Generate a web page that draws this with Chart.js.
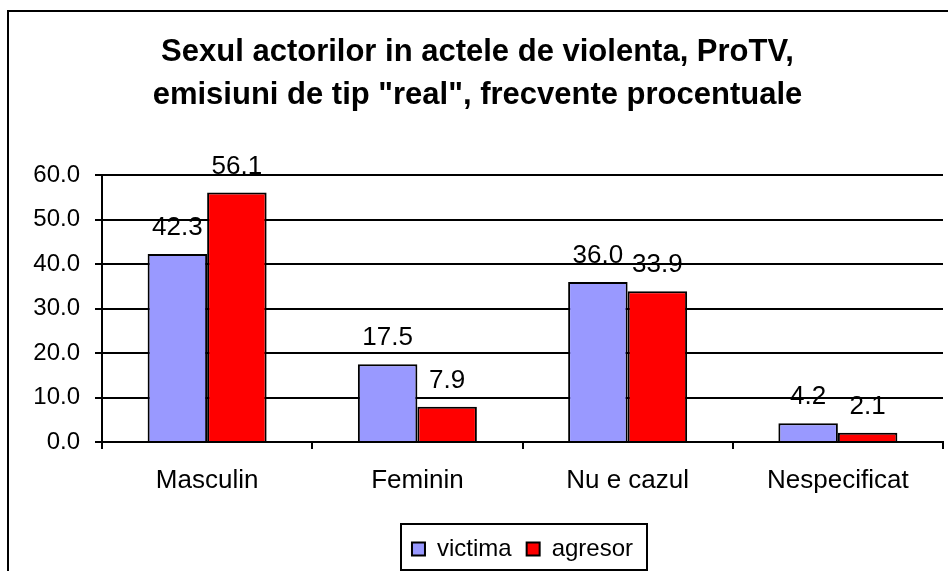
<!DOCTYPE html>
<html>
<head>
<meta charset="utf-8">
<script src="https://cdn.jsdelivr.net/npm/chart.js@4/dist/chart.umd.min.js"></script>
<style>
  html, body { margin: 0; padding: 0; background: #fff; }
  #wrap { width: 948px; height: 571px; }
</style>
</head>
<body>
<div id="wrap"><canvas id="chart" width="948" height="571"></canvas></div>
<script>
const categories = ["Masculin", "Feminin", "Nu e cazul", "Nespecificat"];
const victima = [42.3, 17.5, 36.0, 4.2];
const agresor = [56.1, 7.9, 33.9, 2.1];
const titleLines = ["Sexul actorilor in actele de violenta, ProTV,", "emisiuni de tip \"real\", frecvente procentuale"];

const FONT = "'Liberation Sans', Arial, sans-serif";
Chart.defaults.color = "#000";
Chart.defaults.font.family = FONT;

// outer frame, like the excel chart area border
const frame = {
    id: "frame",
    beforeDraw(chart) {
        const ctx = chart.ctx;
        ctx.save();
        ctx.fillStyle = "#fff";
        ctx.fillRect(0, 0, chart.width, chart.height);
        ctx.strokeStyle = "#000";
        ctx.lineWidth = 2;
        ctx.strokeRect(8, 11, 1000, 1000);
        ctx.restore();
    },
};

// value labels above each bar
const barLabels = {
    id: "barLabels",
    afterDatasetsDraw(chart) {
        const ctx = chart.ctx;
        ctx.save();
        ctx.font = "26px " + FONT;
        ctx.fillStyle = "#000";
        ctx.textAlign = "center";
        ctx.textBaseline = "alphabetic";
        chart.data.datasets.forEach((ds, di) => {
            chart.getDatasetMeta(di).data.forEach((bar, i) => {
                ctx.fillText(ds.data[i].toFixed(1), bar.x, bar.y - 19);
            });
        });
        ctx.restore();
    },
};

// box around the legend
const legendBox = {
    id: "legendBox",
    afterDraw(chart) {
        const lg = chart.legend;
        if (!lg || !lg.legendHitBoxes.length) return;
        const hb = lg.legendHitBoxes;
        const first = hb[0], last = hb[hb.length - 1];
        const ctx = chart.ctx;
        ctx.save();
        ctx.strokeStyle = "#000";
        ctx.lineWidth = 2;
        const left = Math.round(first.left - 11);
        const right = Math.round(last.left + last.width + 14);
        ctx.strokeRect(left, 524, right - left, 46);
        ctx.restore();
    },
};

new Chart(document.getElementById("chart"), {
    type: "bar",
    data: {
        labels: categories,
        datasets: [
            {
                label: "victima",
                data: victima,
                backgroundColor: "#9999FF",
                borderColor: "#000",
                borderWidth: 2,
            },
            {
                label: "agresor",
                data: agresor,
                backgroundColor: "#FF0000",
                borderColor: "#000",
                borderWidth: 2,
            },
        ],
    },
    options: {
        responsive: false,
        animation: false,
        layout: { padding: { left: 12, right: 5, top: 0, bottom: 0 } },
        datasets: {
            bar: { categoryPercentage: 0.566, barPercentage: 1.0 },
        },
        scales: {
            x: {
                afterFit: (s) => { s.height = 80; },
                grid: {
                    offset: true,
                    drawOnChartArea: false,
                    drawTicks: true,
                    tickLength: 7,
                    color: "#000",
                    lineWidth: 2,
                },
                border: { color: "#000", width: 2 },
                ticks: { font: { size: 26 }, padding: 16, color: "#000" },
            },
            y: {
                min: 0,
                max: 60,
                afterFit: (s) => { s.width = 90; },
                grid: {
                    color: "#000",
                    lineWidth: 2,
                    tickLength: 7,
                },
                border: { color: "#000", width: 2 },
                ticks: {
                    stepSize: 10,
                    padding: 15,
                    font: { size: 24 },
                    color: "#000",
                    callback: (v) => Number(v).toFixed(1),
                },
            },
        },
        plugins: {
            title: {
                display: true,
                text: titleLines,
                color: "#000",
                font: { size: 31, weight: "bold", lineHeight: 1.39 },
                padding: { top: 31, bottom: 58 },
            },
            legend: {
                position: "bottom",
                fullSize: false,
                labels: {
                    boxWidth: 13,
                    boxHeight: 13,
                    padding: 15,
                    font: { size: 24 },
                    color: "#000",
                },
            },
            tooltip: { enabled: false },
        },
    },
    plugins: [frame, barLabels, legendBox],
});
</script>
</body>
</html>
